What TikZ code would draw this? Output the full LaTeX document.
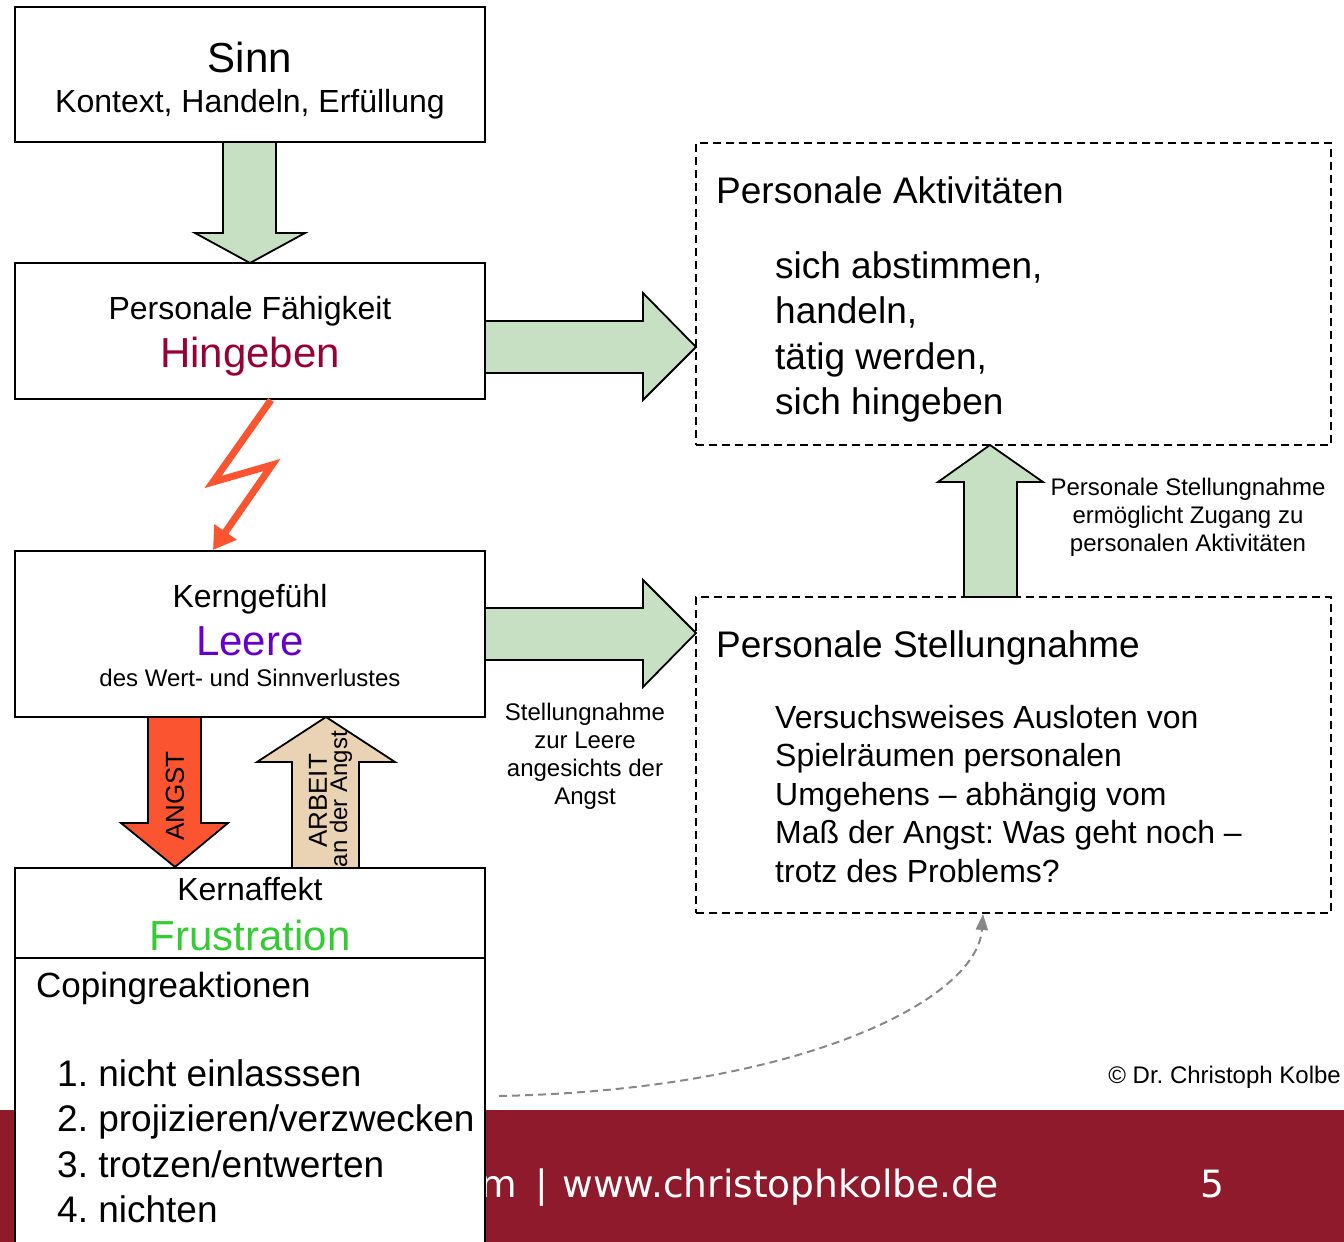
\documentclass[tikz,border=0pt]{standalone}
\usepackage{fontspec}
\setmainfont{Liberation Sans}
\newfontfamily\footfont{DejaVu Sans}
\usetikzlibrary{arrows.meta}
\definecolor{arrowgreen}{HTML}{C7DFC2}
\definecolor{boltred}{HTML}{FA5431}
\definecolor{angstred}{HTML}{FA5431}
\definecolor{arbeittan}{HTML}{E9D3B4}
\definecolor{hingebcol}{HTML}{990033}
\definecolor{leerecol}{HTML}{6600CC}
\definecolor{frustcol}{HTML}{33CC33}
\definecolor{footred}{HTML}{8E1A2B}
\definecolor{curvegray}{HTML}{888888}
\tikzset{
  solidbox/.style={draw=black, line width=2pt, fill=white, inner sep=0pt},
  dashbox/.style={draw=black, line width=2pt, dash pattern=on 8pt off 5pt, inner sep=0pt},
  blockarrow/.style={draw=black, line width=1.8pt, line join=miter},
  txt/.style={inner sep=0pt, text=black},
}
\begin{document}
\frenchspacing
\begin{tikzpicture}[x=1pt,y=-1pt]
\useasboundingbox (0,0) rectangle (1344,1242);
\clip (0,0) rectangle (1344,1242);
\fill[white] (0,0) rectangle (1344,1242);

% footer band
\fill[footred] (0,1110) rectangle (1344,1242);
\node[txt, anchor=base west, text=white, font=\footfont\fontsize{37.6}{44}\selectfont] (footurl) at (480,1197) {m \kern7pt| \kern2pt www.christophkolbe.de};
\node[txt, anchor=base, text=white, font=\footfont\fontsize{37.6}{44}\selectfont] (pagenum) at (1212,1197) {5};

% green block arrows
\draw[blockarrow, fill=arrowgreen] (223,142) -- (276,142) -- (276,233) -- (305,233) -- (250,263) -- (195,233) -- (223,233) -- cycle;
\draw[blockarrow, fill=arrowgreen] (485,321) -- (643,321) -- (643,293) -- (696,347) -- (643,400) -- (643,373) -- (485,373) -- cycle;
\draw[blockarrow, fill=arrowgreen] (485,608) -- (643,608) -- (643,580) -- (696,633) -- (643,687) -- (643,660) -- (485,660) -- cycle;
\draw[blockarrow, fill=arrowgreen] (964,597) -- (964,482) -- (938,482) -- (990,445) -- (1043,482) -- (1017,482) -- (1017,597) -- cycle;

% ANGST and ARBEIT arrows
\draw[blockarrow, fill=angstred] (148,717) -- (201,717) -- (201,823) -- (228,823) -- (175,867) -- (121,823) -- (148,823) -- cycle;
\node[txt, rotate=90, font=\fontsize{26}{30}\selectfont] (angst) at (175,796) {ANGST};
\draw[blockarrow, fill=arbeittan] (292,868) -- (292,762) -- (257,762) -- (326,717) -- (395,762) -- (359,762) -- (359,868) -- cycle;
\node[txt, rotate=90, font=\fontsize{26}{30}\selectfont] (arbeit) at (318,801) {ARBEIT};
\node[txt, rotate=90, font=\fontsize{24}{28}\selectfont] (anderangst) at (341,799) {an der Angst};

% left boxes
\node[solidbox, minimum width=470pt, minimum height=135pt] (sinn) at (250,74.5) {};
\node[solidbox, minimum width=470pt, minimum height=136pt] (faehig) at (250,331) {};
\node[solidbox, minimum width=470pt, minimum height=166pt] (kern) at (250,634) {};
\node[solidbox, minimum width=470pt, minimum height=90pt] (affekt) at (250,913) {};
\node[solidbox, minimum width=470pt, minimum height=304pt] (coping) at (250,1110) {};

% right dashed boxes
\node[dashbox, minimum width=635pt, minimum height=302pt] (aktiv) at (1013.5,294) {};
\node[dashbox, minimum width=635pt, minimum height=316pt] (stell) at (1013.5,755) {};

% lightning bolt
\draw[boltred, line width=7pt, line join=miter, -{Triangle[length=22pt,width=26pt]}] (faehig.south -| 271,0) -- (213,482) -- (272,465) -- (kern.north -| 213,0);

% dashed curved arrow
\coordinate (cstart) at (499,1096);
\coordinate (cend) at (983,914);
\draw[curvegray, line width=2pt, dash pattern=on 8pt off 5pt, -{Triangle[length=16pt,width=12pt]}] (cstart) .. controls (800,1090) and (977,1000) .. (cend);

% texts in left boxes
\node[txt, anchor=base, font=\fontsize{42}{50}\selectfont] (tsinn) at (250,72) {Sinn};
\node[txt, anchor=base, font=\fontsize{32}{38}\selectfont] (tkontext) at (250,112) {Kontext, Handeln, Erfüllung};
\node[txt, anchor=base, font=\fontsize{32}{38}\selectfont] (tfaehig) at (250,319) {Personale Fähigkeit};
\node[txt, anchor=base, text=hingebcol, font=\fontsize{42}{50}\selectfont] (thingeben) at (250,367) {Hingeben};
\node[txt, anchor=base, font=\fontsize{32}{38}\selectfont] (tkern) at (250,607) {Kerngefühl};
\node[txt, anchor=base, text=leerecol, font=\fontsize{42}{50}\selectfont] (tleere) at (250,655) {Leere};
\node[txt, anchor=base, font=\fontsize{24}{28}\selectfont] (tverlust) at (250,686) {des Wert- und Sinnverlustes};
\node[txt, anchor=base, font=\fontsize{32}{38}\selectfont] (taffekt) at (250,900) {Kernaffekt};
\node[txt, anchor=base, text=frustcol, font=\fontsize{42}{50}\selectfont] (tfrust) at (250,950) {Frustration};
\node[txt, anchor=base west, font=\fontsize{35}{42}\selectfont] (tcoping) at (36,997) {Copingreaktionen};
\node[txt, anchor=base west, font=\fontsize{37}{45.6}\selectfont] (tlist) at (57,1086)
  {\vtop{\halign{#\hfil\cr 1. nicht einlasssen\cr 2. projizieren/verzwecken\cr 3. trotzen/entwerten\cr 4. nichten\cr}}};

% texts in right boxes
\node[txt, anchor=base west, font=\fontsize{37}{45}\selectfont] (taktiv) at (716,203) {Personale Aktivitäten};
\node[txt, anchor=base west, font=\fontsize{37}{45.5}\selectfont] (taktlist) at (775,278)
  {\vtop{\halign{#\hfil\cr sich abstimmen,\cr handeln,\cr tätig werden,\cr sich hingeben\cr}}};
\node[txt, anchor=base west, font=\fontsize{37}{45}\selectfont] (tstell) at (716,657) {Personale Stellungnahme};
\node[txt, anchor=base west, font=\fontsize{32}{38.5}\selectfont] (tstelllist) at (775,728)
  {\vtop{\halign{#\hfil\cr Versuchsweises Ausloten von\cr Spielräumen personalen\cr Umgehens – abhängig vom\cr Maß der Angst: Was geht noch –\cr trotz des Problems?\cr}}};

% small labels
\node[txt, anchor=base, font=\fontsize{24}{28.3}\selectfont] (tstleere) at (585,720)
  {\vtop{\halign{\hfil#\hfil\cr Stellungnahme\cr zur Leere\cr angesichts der\cr Angst\cr}}};
\node[txt, anchor=base, font=\fontsize{24}{28}\selectfont] (tzugang) at (1188,495)
  {\vtop{\halign{\hfil#\hfil\cr Personale Stellungnahme\cr ermöglicht Zugang zu\cr personalen Aktivitäten\cr}}};
\node[txt, anchor=base east, font=\fontsize{24}{28}\selectfont] (tcopy) at (1341,1083) {© Dr. Christoph Kolbe};
\end{tikzpicture}
\end{document}
